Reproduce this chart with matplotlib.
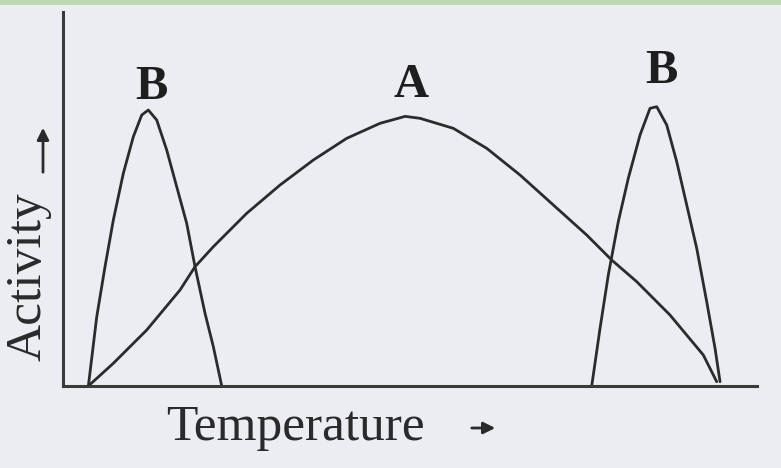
import matplotlib
matplotlib.use("Agg")
import matplotlib.pyplot as plt
from matplotlib.patches import Rectangle, FancyArrowPatch

# Curve A (enzyme working over a wide temperature range)
temp_a = [3.65, 7.25, 12.06, 16.86, 19.02, 21.66, 26.47, 31.27, 36.07, 40.88,
          45.68, 49.3, 51.44, 56.24, 61.05, 65.85, 70.65, 75.46, 79.06, 82.67,
          87.46, 92.26, 94.19]
act_a = [0.0, 6.07, 14.97, 25.67, 31.90, 37.25, 46.18, 53.74, 60.43, 66.23,
         70.24, 72.1, 71.58, 68.90, 63.56, 56.42, 48.40, 40.37, 33.69, 27.89,
         18.98, 8.29, 1.15]

# Curve B, low temperature peak
temp_b1 = [3.65, 4.86, 6.05, 7.25, 8.69, 10.13, 11.34, 12.29, 13.50, 14.94,
           16.38, 17.82, 19.02, 20.46, 21.66, 22.87]
act_b1 = [0.0, 18.53, 31.90, 44.39, 56.87, 66.66, 72.46, 73.80, 71.12, 63.10,
          53.29, 43.50, 31.90, 19.44, 10.51, 0.0]

# Curve B, high temperature peak
temp_b2 = [76.18, 77.38, 78.57, 80.01, 81.45, 83.14, 84.58, 85.55, 86.99,
           88.43, 89.87, 91.31, 92.75, 93.95, 94.67]
act_b2 = [0.0, 15.43, 29.68, 43.93, 55.53, 67.11, 74.25, 74.68, 69.79,
          59.97, 48.40, 36.82, 22.54, 10.08, 1.15]

labels = ["B", "A", "B"]
label_x = [12.7, 50.1, 86.2]
label_y = [76.7, 77.3, 81.0]

ink = "#2b2b2b"
paper = "#ecedf2"

fig = plt.figure(figsize=(7.81, 4.68), dpi=100, facecolor=paper)
ax = fig.add_axes([0.0807, 0.1752, 0.8886, 0.7991])
ax.set_facecolor(paper)

for xs, ys in [(temp_a, act_a), (temp_b1, act_b1), (temp_b2, act_b2)]:
    ax.plot(xs, ys, color=ink, lw=2.0, solid_joinstyle="round",
            solid_capstyle="round")

for lab, x, y in zip(labels, label_x, label_y):
    ax.text(x, y, lab, ha="center", va="baseline", fontsize=35,
            fontweight="bold", family="Liberation Serif", color="#1e1e1e")

ax.set_xlim(0, 100)
ax.set_ylim(0, 100)
ax.set_xticks([])
ax.set_yticks([])
for s in ["top", "right"]:
    ax.spines[s].set_visible(False)
for s in ["left", "bottom"]:
    ax.spines[s].set_linewidth(2.2)
    ax.spines[s].set_color("#3a3a3a")

# axis titles with arrows
fig.text(295 / 781, 1 - 440 / 468, "Temperature", ha="center", va="baseline",
         fontsize=37, family="Liberation Serif", color="#2a2a2a")
fig.text(28 / 781, 1 - 277 / 468, "Activity", ha="center", va="center",
         rotation=90, fontsize=37, family="Liberation Serif", color="#2a2a2a")
fig.add_artist(FancyArrowPatch(
    (469 / 781, 1 - 428 / 468), (498 / 781, 1 - 428 / 468),
    transform=fig.transFigure, arrowstyle="-|>,head_length=7,head_width=3.5",
    color="#2a2a2a", lw=2.0))
fig.add_artist(FancyArrowPatch(
    (43 / 781, 1 - 175 / 468), (43 / 781, 1 - 125 / 468),
    transform=fig.transFigure, arrowstyle="-|>,head_length=7,head_width=3.5",
    color="#2a2a2a", lw=2.0))

# green strip along the top edge of the scan
fig.add_artist(Rectangle((0, 1 - 5 / 468), 1, 5 / 468, transform=fig.transFigure,
                         color="#bcd9b5", lw=0))

fig.savefig("out.png", dpi=100, facecolor=paper)
